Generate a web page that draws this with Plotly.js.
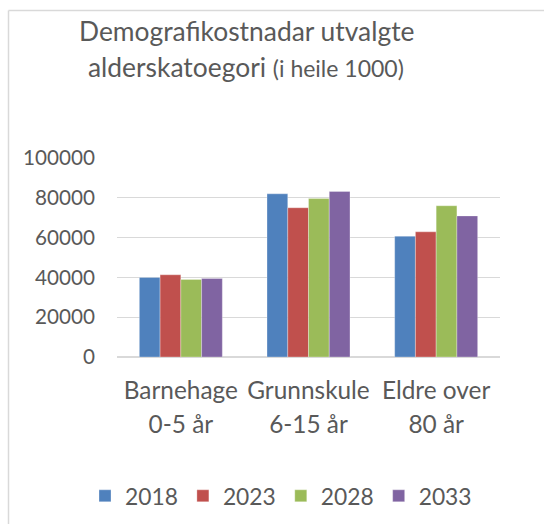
<!DOCTYPE html>
<html>
<head>
<meta charset="utf-8">
<script src="https://cdn.plot.ly/plotly-3.0.1.min.js"></script>
<style>
html,body{margin:0;padding:0;background:#fff;}
#chart{width:544px;height:524px;}
</style>
</head>
<body>
<div id="chart"></div>
<script>
const categories = ["Barnehage", "Grunnskule", "Eldre over"];
const categoryLine2 = ["0-5 år", "6-15 år", "80 år"];
const years = ["2018", "2023", "2028", "2033"];
const v2018 = [40000, 82000, 60700];
const v2023 = [41300, 75000, 62900];
const v2028 = [39000, 79600, 76000];
const v2033 = [39500, 83200, 70900];
const yTicks = [0, 20000, 40000, 60000, 80000, 100000];

const colors = ["#4F81BD", "#C0504D", "#9BBB59", "#8064A2"];
const series = [v2018, v2023, v2028, v2033];
const FONT = "Lato, 'Open Sans', sans-serif";
const TXT = "#595959";

const traces = series.map((vals, i) => ({
  type: "bar",
  name: years[i],
  x: categories,
  y: vals,
  marker: {color: colors[i], line: {color: "rgba(255,255,255,0.5)", width: 0.6}},
  hoverinfo: "none"
}));
// invisible trace for second line of category labels
traces.push({type: "scatter", mode: "markers", x: categoryLine2, y: [0,0,0], xaxis: "x2",
  marker: {opacity: 0}, showlegend: false, hoverinfo: "none"});

const L = 117, T = 158, B = 167, R = 44;
const W = 544, H = 524;
const pw = W - L - R, ph = H - T - B;
const px2x = p => (p - L) / pw;
const py2y = p => (H - B - p) / ph;

const layout = {
  width: W, height: H,
  margin: {l: L, r: R, t: T, b: B, pad: 0, autoexpand: false},
  paper_bgcolor: "#fff", plot_bgcolor: "#fff",
  font: {family: FONT, color: TXT},
  barmode: "group", bargap: 0.35, bargroupgap: 0,
  showlegend: true,
  legend: {orientation: "h", x: px2x(85), xanchor: "left", y: py2y(496), yanchor: "middle",
    font: {family: FONT, size: 22.8, color: TXT}, traceorder: "normal", itemclick: false},
  xaxis: {type: "category", categoryarray: categories, range: [-0.5, 2.5], showgrid: false, zeroline: false,
    showline: false, ticks: "", tickfont: {family: FONT, size: 24.4, color: TXT}, ticklabelstandoff: 17, fixedrange: true},
  xaxis2: {type: "category", categoryarray: categoryLine2, range: [-0.5, 2.5], overlaying: "x", anchor: "y", side: "bottom",
    showgrid: false, zeroline: false, showline: false, ticks: "", tickfont: {family: FONT, size: 24.4, color: TXT}, ticklabelstandoff: 51, fixedrange: true},
  yaxis: {range: [0, 100000], tickvals: yTicks, ticktext: yTicks.map(String), showgrid: true, gridcolor: "#d9d9d9", gridwidth: 1.3,
    zeroline: true, zerolinecolor: "#d9d9d9", zerolinewidth: 1.3, showline: false, ticks: "",
    tickfont: {family: FONT, size: 20.7, color: TXT}, ticklabelstandoff: 21, fixedrange: true},
  annotations: [
    {xref: "paper", yref: "paper", x: px2x(246.5), y: py2y(30.8), xanchor: "center", yanchor: "middle", showarrow: false,
      text: "Demografikostnadar utvalgte", font: {family: FONT, size: 26.4, color: TXT}},
    {xref: "paper", yref: "paper", x: px2x(246), y: py2y(66.8), xanchor: "center", yanchor: "middle", showarrow: false,
      text: "alderskatoegori <span style='font-size:23px'>(i heile 1000)</span>", font: {family: FONT, size: 26.4, color: TXT}}
  ],
  shapes: [
    {type: "line", xref: "paper", yref: "paper", x0: px2x(8.5), x1: px2x(8.5), y0: py2y(10.5), y1: py2y(560), line: {color: "#d9d9d9", width: 1.5}},
    {type: "line", xref: "paper", yref: "paper", x0: px2x(8.5), x1: px2x(600), y0: py2y(10.5), y1: py2y(10.5), line: {color: "#d9d9d9", width: 1.5}}
  ]
};

Plotly.newPlot("chart", traces, layout, {displayModeBar: false, staticPlot: true});
</script>
</body>
</html>
